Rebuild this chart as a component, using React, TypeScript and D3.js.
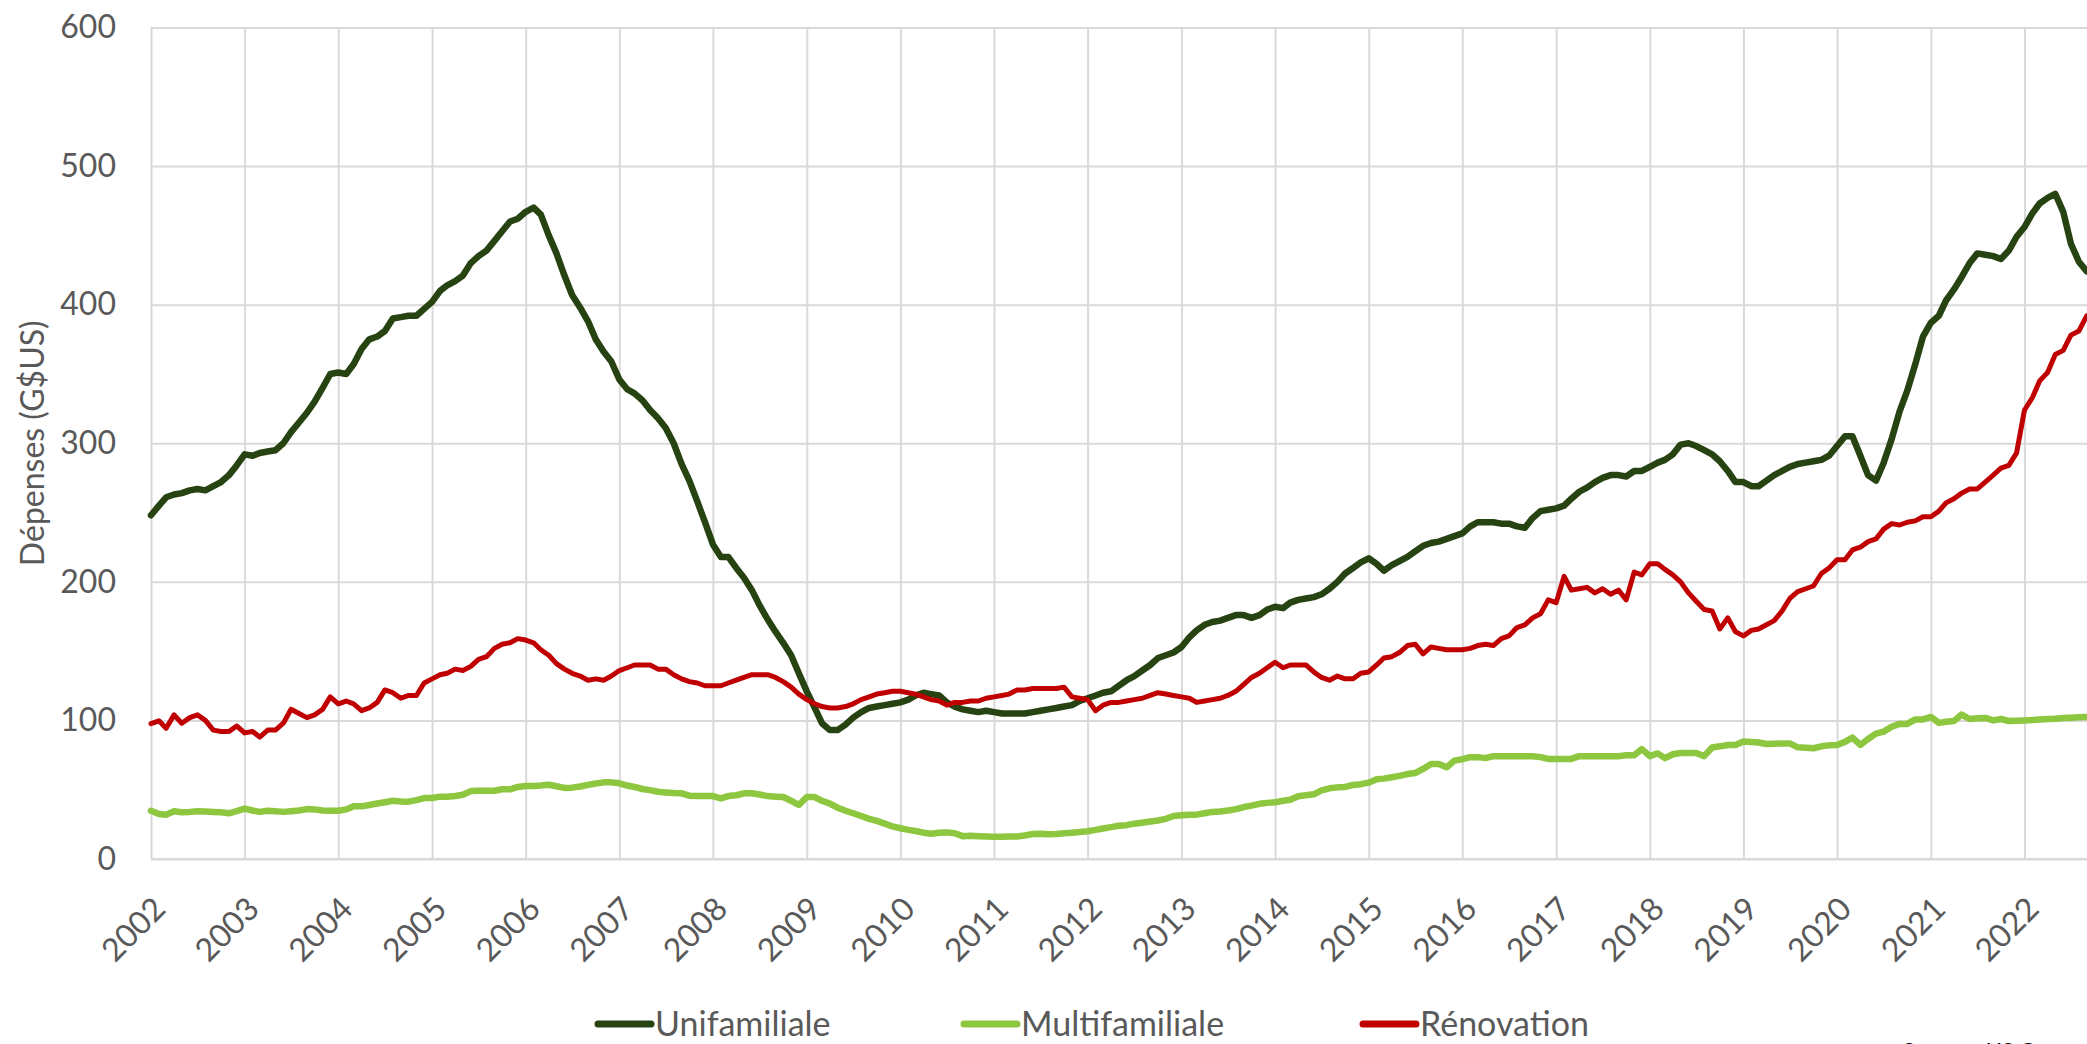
import * as d3 from 'd3';
import * as React from 'react';

const { useRef, useEffect } = React;

const width = 2087;
const height = 1044;
const margin = { top: 27.5, left: 151, bottom: 859 };

// Monthly values from Jan 2002, G$US
const unifamiliale = [
  248, 255, 261, 263, 264, 266, 267, 266, 269, 272, 277, 284,
  292, 291, 293, 294, 295, 300, 308, 315, 322, 330, 340, 350,
  351, 350, 357, 368, 375, 377, 381, 390, 391, 392, 392, 397,
  402, 410, 414, 417, 421, 430, 435, 439, 446, 453, 460, 462,
  467, 470, 465, 450, 437, 421, 407, 398, 388, 375, 366, 359,
  346, 339, 336, 331, 324, 318, 311, 300, 285, 273, 258, 243,
  227, 218, 218, 210, 203, 194, 183, 173, 164, 156, 147, 134,
  121, 109, 98, 93, 93, 97, 102, 106, 109, 110, 111, 112,
  113, 115, 118, 120, 119, 118, 113, 110, 108, 107, 106, 107,
  106, 105, 105, 105, 105, 106, 107, 108, 109, 110, 111, 114,
  116, 118, 120, 121, 125, 129, 132, 136, 140, 145, 147, 149,
  153, 160, 165, 169, 171, 172, 174, 176, 176, 174, 176, 180,
  182, 181, 185, 187, 188, 189, 191, 195, 200, 206, 210, 214,
  217, 213, 208, 212, 215, 218, 222, 226, 228, 229, 231, 233,
  235, 240, 243, 243, 243, 242, 242, 240, 239, 246, 251, 252,
  253, 255, 260, 265, 268, 272, 275, 277, 277, 276, 280, 280,
  283, 286, 288, 292, 299, 300, 298, 295, 292, 287, 280, 272,
  272, 269, 269, 273, 277, 280, 283, 285, 286, 287, 288, 291,
  298, 305, 305, 291, 277, 273, 286, 303, 323, 338, 357, 377,
  387, 392, 403, 411, 420, 430, 437, 436, 435, 433, 439, 449,
  456, 466, 473, 477, 480, 467, 444, 431, 424,
];

const multifamiliale = [
  34.8, 32.5, 32, 34.4, 33.8, 34, 34.4, 34.2, 34, 33.8, 33, 34.5,
  36.4, 35, 34, 34.8, 34.5, 34, 34.5, 35, 36, 35.8, 35, 34.8,
  34.8, 35.8, 38, 38, 39, 40, 41, 42, 41.5, 41.4, 42.5, 44,
  44, 45, 45, 45.5, 46.4, 49, 49.3, 49.3, 49.3, 50.3, 50.3, 52,
  52.6, 52.6, 53, 53.6, 52.5, 51.3, 51.5, 52.3, 53.5, 54.5, 55.3, 55.3,
  54.6, 53, 52, 50.5, 49.7, 48.5, 48, 47.6, 47.4, 45.7, 45.5, 45.4,
  45.4, 43.7, 45.4, 46, 47.4, 47.4, 46.5, 45.4, 45, 44.7, 42, 39,
  44.7, 44.7, 42, 40, 37, 34.8, 33, 31, 29, 27.5, 25.5, 23.5,
  22.2, 21, 20.2, 19, 18.2, 19, 19.2, 18.6, 16.5, 16.8, 16.5, 16.3,
  16, 16, 16.2, 16.3, 17, 18, 18.3, 17.8, 18, 18.6, 19, 19.5,
  20, 21, 22, 23, 24, 24.4, 25.5, 26.2, 27, 27.8, 29, 31,
  31.5, 32, 32, 33, 34, 34.3, 35, 36, 37.5, 38.5, 39.8, 40.5,
  40.9, 42, 42.7, 45.3, 46, 46.7, 49.5, 51, 51.7, 52, 53.4, 54,
  55.1, 57.6, 58, 59, 60, 61.3, 62, 65, 68.5, 68.5, 66.2, 71,
  72, 73.5, 73.5, 72.8, 74.2, 74.2, 74.2, 74.2, 74.2, 74.2, 73.5, 72.2,
  72.2, 72.2, 72.2, 74.2, 74.2, 74.2, 74.2, 74.2, 74.2, 74.8, 74.8, 79.3,
  74.2, 76.2, 72.8, 75.6, 76.5, 76.5, 76.5, 74.2, 80.5, 81.3, 82.3, 82.3,
  84.8, 84.5, 84.1, 83, 83.2, 83.4, 83.4, 80.6, 80.2, 79.9, 81.3, 82,
  82.3, 84.5, 87.6, 82.3, 86.6, 90.5, 91.9, 95.4, 97.5, 97.5, 100.7, 100.7,
  102.5, 98.2, 99, 99.6, 104.2, 101, 101.5, 101.8, 100, 101, 99.6, 99.8,
  100, 100.3, 100.6, 101, 101.2, 101.8, 102, 102.3, 102.5,
];

const renovation = [
  97.7, 99.7, 94.4, 104, 98, 102, 104, 100, 93, 92, 92, 96,
  91, 92, 88, 93, 93, 98, 108, 105, 102, 104, 108, 117,
  112, 114, 112, 107, 109, 113, 122, 120, 116, 118, 118, 127,
  130, 133, 134, 137, 136, 139, 144, 146, 152, 155, 156, 159,
  158, 156, 151, 147, 141, 137, 134, 132, 129, 130, 129, 132,
  136, 138, 140, 140, 140, 137, 137, 133, 130, 128, 127, 125,
  125, 125, 127, 129, 131, 133, 133, 133, 131, 128, 124, 119,
  115, 112, 110, 109, 109, 110, 112, 115, 117, 119, 120, 121,
  121, 120, 119, 117, 115, 114, 111, 113, 113, 114, 114, 116,
  117, 118, 119, 122, 122, 123, 123, 123, 123, 124, 117, 116,
  115, 107, 111, 113, 113, 114, 115, 116, 118, 120, 119, 118,
  117, 116, 113, 114, 115, 116, 118, 121, 126, 131, 134, 138,
  142, 138, 140, 140, 140, 135, 131, 129, 132, 130, 130, 134,
  135, 140, 145, 146, 149, 154, 155, 148, 153, 152, 151, 151,
  151, 152, 154, 155, 154, 159, 161, 167, 169, 174, 177, 187,
  185, 204, 194, 195, 196, 192, 195, 191, 194, 187, 207, 205,
  213, 213, 209, 205, 200, 192, 186, 180, 179, 166, 174, 164,
  161, 165, 166, 169, 172, 179, 188, 193, 195, 197, 206, 210,
  216, 216, 223, 225, 229, 231, 238, 242, 241, 243, 244, 247,
  247, 251, 257, 260, 264, 267, 267, 272, 277, 282, 284, 293,
  324, 333, 345, 351, 364, 367, 378, 381, 392,
];

const seriesNames = ['Unifamiliale', 'Multifamiliale', 'Rénovation'];
const seriesValues = [unifamiliale, multifamiliale, renovation];
const seriesColors = ['#264311', '#8dc63f', '#c00000'];
const seriesWidths = [6.5, 6.5, 5];

const yTicks = [0, 100, 200, 300, 400, 500, 600];
const yearTicks = d3.range(2002, 2023);
const yLabel = 'Dépenses (G$US)';
const sourceNote = 'Source : US Census Bureau';

const font = 'Lato, "Open Sans", sans-serif';
const textGrey = '#595959';
const gridGrey = '#d9d9d9';

export default () => {
  const rootRef = useRef<HTMLDivElement>(null);

  useEffect(() => {
    const rootEl = rootRef.current;
    if (!rootEl) {
      return;
    }
    d3.select(rootEl).selectAll('*').remove();

    const x = d3
      .scaleTime()
      .domain([new Date(2002, 0, 1), new Date(2022, 0, 1)])
      .range([margin.left, 2024.5]);

    const y = d3
      .scaleLinear()
      .domain([0, 600])
      .range([margin.bottom, margin.top]);

    const svg = d3
      .select(rootEl)
      .append('svg')
      .attr('width', width)
      .attr('height', height)
      .style('position', 'absolute')
      .style('left', 0)
      .style('top', 0)
      .style('background', '#fff')
      .attr('font-family', font);

    // horizontal grid + y labels
    svg
      .append('g')
      .attr('transform', `translate(${margin.left},0)`)
      .call(
        d3
          .axisLeft(y)
          .tickValues(yTicks)
          .tickSize(-(width - margin.left))
          .tickPadding(35)
          .tickFormat(d3.format('d')),
      )
      .call(g => g.select('.domain').remove())
      .call(g =>
        g.selectAll('.tick line').attr('stroke', gridGrey).attr('stroke-width', 2),
      )
      .call(g =>
        g
          .selectAll('.tick text')
          .attr('fill', textGrey)
          .attr('font-size', 32)
          .attr('font-family', font),
      );

    // vertical grid + year labels
    svg
      .append('g')
      .attr('transform', `translate(0,${margin.bottom})`)
      .call(
        d3
          .axisBottom(x)
          .tickValues(yearTicks.map(yr => new Date(yr, 0, 1)))
          .tickSize(-(margin.bottom - margin.top))
          .tickFormat(d => d3.timeFormat('%Y')(d as Date)),
      )
      .call(g => g.select('.domain').remove())
      .call(g =>
        g.selectAll('.tick line').attr('stroke', gridGrey).attr('stroke-width', 2),
      )
      .call(g =>
        g
          .selectAll('.tick text')
          .attr('fill', textGrey)
          .attr('font-size', 32)
          .attr('font-family', font)
          .attr('text-anchor', 'end')
          .attr('x', 0)
          .attr('y', 0)
          .attr('dy', '0.35em')
          .attr('transform', 'translate(8,44) rotate(-45)'),
      );

    // bottom axis line
    svg
      .append('line')
      .attr('x1', margin.left)
      .attr('x2', width)
      .attr('y1', y(0))
      .attr('y2', y(0))
      .attr('stroke', gridGrey)
      .attr('stroke-width', 2);

    const line = d3
      .line<number>()
      .x((_, i) => x(new Date(2002, i, 1)))
      .y(d => y(d));

    svg
      .append('g')
      .selectAll('path')
      .data(seriesValues)
      .join('path')
      .attr('fill', 'none')
      .attr('stroke', (_, i) => seriesColors[i])
      .attr('stroke-width', (_, i) => seriesWidths[i])
      .attr('stroke-linejoin', 'round')
      .attr('stroke-linecap', 'round')
      .attr('d', d => line(d));

    // y title
    svg
      .append('text')
      .attr('transform', `translate(44,${(margin.top + margin.bottom) / 2}) rotate(-90)`)
      .attr('text-anchor', 'middle')
      .attr('fill', textGrey)
      .attr('font-size', 32)
      .text(yLabel);

    // legend
    const legendX = [595, 961, 1360];
    const legend = svg
      .append('g')
      .selectAll('g')
      .data(seriesNames)
      .join('g')
      .attr('transform', (_, i) => `translate(${legendX[i]},1024)`);

    legend
      .append('line')
      .attr('x1', 3)
      .attr('x2', 56)
      .attr('stroke', (_, i) => seriesColors[i])
      .attr('stroke-width', 7)
      .attr('stroke-linecap', 'round');

    legend
      .append('text')
      .attr('x', 60)
      .attr('dy', '0.35em')
      .attr('fill', textGrey)
      .attr('font-size', 34)
      .text(d => d);

    svg
      .append('text')
      .attr('x', 1903)
      .attr('y', 1058)
      .attr('fill', '#000')
      .attr('font-size', 22)
      .text(sourceNote);
  }, []);

  return <div ref={rootRef} />;
};
